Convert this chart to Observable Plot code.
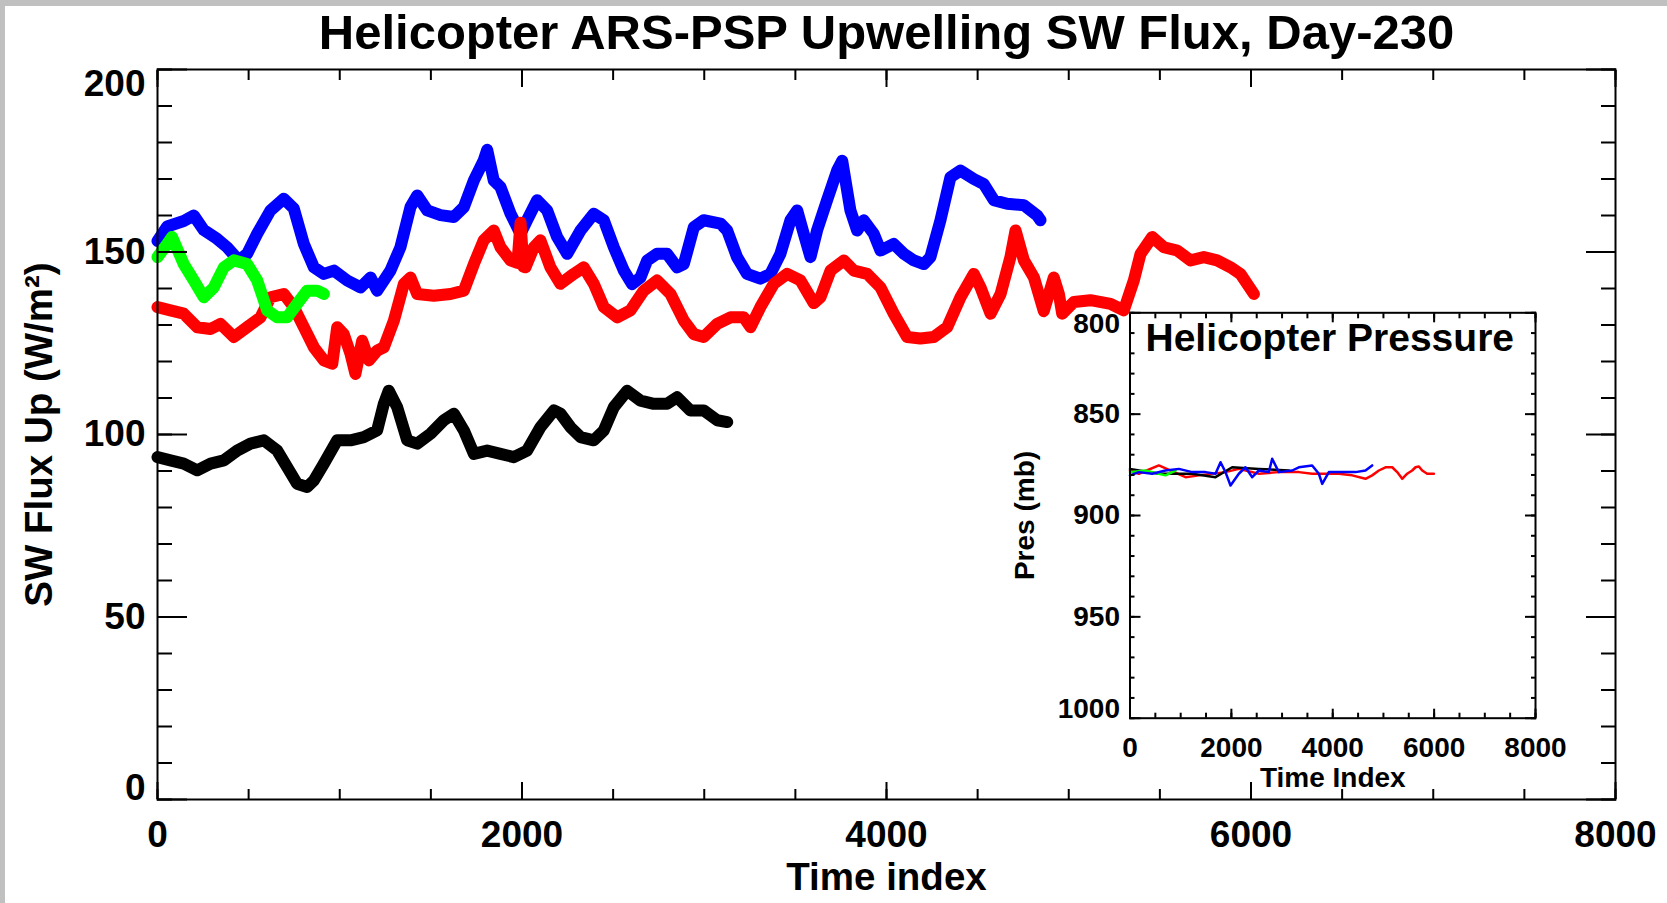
<!DOCTYPE html>
<html><head><meta charset="utf-8">
<script src="https://cdn.jsdelivr.net/npm/d3@7"></script>
<script src="https://cdn.jsdelivr.net/npm/@observablehq/plot@0.6"></script>
<style>
html,body{margin:0;padding:0;background:#c0c0c0;width:1667px;height:903px;overflow:hidden;}
#page{position:absolute;left:5px;top:6px;width:1662px;height:897px;background:#fff;}
#page svg{position:absolute;left:0;top:0;}
</style></head><body><div id="page"></div>
<script>
// ---- Text ----
const titleText = "Helicopter ARS-PSP Upwelling SW Flux, Day-230";
const xLabelText = "Time index";
const yLabelText = "SW Flux Up (W/m\u00B2)";
const insetTitleText = "Helicopter Pressure";
const insetXLabelText = "Time Index";
const insetYLabelText = "Pres (mb)";

// ---- Tick labels ----
const xTickLabels = [0, 2000, 4000, 6000, 8000];
const yTickLabels = [0, 50, 100, 150, 200];
const insetXTickLabels = [0, 2000, 4000, 6000, 8000];
const insetYTickLabels = [800, 850, 900, 950, 1000];

// ---- Series: upwelling SW flux [time index, W/m2] ----
const blueFlux = [[0,153],[53,157],[144,158.5],[199,160],[254,156],[327,153.6],[382,151.3],[446,147.7],[492,149.5],[547,155],[620,161.4],[693,164.6],[748,161.9],[803,152.2],[858,145.8],[913,144],[968,144.9],[1041,142.2],[1114,140.3],[1169,143],[1205,139.4],[1278,144.9],[1333,151.3],[1388,162.3],[1425,165.5],[1480,161.4],[1553,160.1],[1626,159.6],[1681,162.3],[1736,169.6],[1790,175.1],[1809,178],[1845,169.6],[1882,167.8],[1937,160.5],[1992,155],[2028,158.7],[2083,164.2],[2138,161.4],[2193,154.1],[2248,149.5],[2321,155.9],[2394,160.5],[2449,158.7],[2504,151.3],[2559,144.9],[2604,141.2],[2650,143],[2687,147.7],[2741,149.5],[2796,149.5],[2851,145.8],[2888,146.7],[2943,156.8],[2997,158.7],[3089,157.8],[3126,155.9],[3180,148.6],[3235,144],[3308,142.7],[3363,144],[3418,149.5],[3473,158.7],[3510,161.4],[3546,155],[3583,148.6],[3619,155.9],[3674,164.2],[3729,172.3],[3757,175],[3802,161.4],[3839,155.9],[3875,158.7],[3930,155],[3967,150.4],[4040,152.2],[4095,149.5],[4150,147.7],[4205,146.7],[4241,148.6],[4296,158.7],[4351,170.5],[4406,172.3],[4479,170],[4534,168.6],[4589,164.2],[4662,163.2],[4754,162.8],[4827,160],[4845,158.7]];
const redFlux = [[0,134.9],[71,134],[144,133.1],[218,129.4],[291,128.9],[346,130.3],[419,126.7],[492,129.4],[565,132.1],[620,137.6],[693,138.5],[748,134.9],[803,129.4],[858,123.9],[913,120.3],[959,119.4],[986,129.4],[1022,127.5],[1059,122.1],[1086,116.6],[1123,125.7],[1160,120.3],[1205,123],[1242,123.9],[1297,131.2],[1352,141.3],[1388,143],[1425,138.5],[1516,138],[1608,138.5],[1681,139.4],[1736,146.7],[1790,153.2],[1845,155.9],[1882,151.3],[1937,147.7],[1975,147],[1992,158],[2008,146],[2019,145.8],[2065,151.3],[2101,153.2],[2156,145.8],[2211,141.3],[2284,144],[2339,145.8],[2394,141.3],[2449,134.9],[2522,132.1],[2595,134],[2668,139.4],[2741,142.2],[2815,138.5],[2888,131.2],[2943,127.5],[2997,126.7],[3071,130.3],[3144,132.1],[3217,132.1],[3254,129.4],[3308,134.9],[3382,141.3],[3455,144],[3528,142.2],[3601,136],[3638,137.6],[3693,144.9],[3766,147.7],[3821,144.9],[3894,144],[3967,140.3],[4040,133.1],[4113,126.7],[4186,126.3],[4259,126.7],[4333,129.4],[4406,137.6],[4479,144],[4516,140.3],[4571,133.1],[4626,138.5],[4680,148.6],[4708,155.9],[4754,147.7],[4809,143],[4863,133.8],[4918,143],[4946,138.5],[4964,133.1],[5028,136.3],[5119,136.8],[5229,135.8],[5302,134],[5357,142.2],[5394,149.5],[5458,154.1],[5522,151.3],[5595,150.4],[5668,147.7],[5741,148.6],[5814,147.7],[5888,145.8],[5942,144],[6016,138.5]];
const greenFlux = [[0,148.6],[53,152.2],[80,154.1],[144,146.7],[199,142.2],[254,137.6],[309,140.3],[364,145.8],[419,147.7],[492,146.7],[547,142.2],[602,134],[657,132.1],[711,132.1],[766,135.8],[821,139.4],[876,139.4],[913,138.5]];
const blackFlux = [[0,93.8],[71,92.9],[144,92],[218,90.2],[291,92],[364,92.9],[437,95.6],[510,97.5],[583,98.4],[657,95.6],[711,91.1],[766,86.5],[821,85.6],[858,87.4],[913,92],[986,98.4],[1059,98.4],[1132,99.3],[1205,101.1],[1242,108.4],[1269,112],[1315,107.5],[1370,98.4],[1425,97.5],[1498,100.2],[1571,103.9],[1626,105.7],[1681,101.1],[1736,94.7],[1809,95.6],[1882,94.7],[1955,93.8],[2028,95.6],[2101,102],[2175,106.6],[2211,105.7],[2266,102],[2321,99.3],[2394,98.4],[2449,101.1],[2504,107.5],[2577,112],[2650,109.3],[2723,108.4],[2796,108.4],[2851,110.2],[2924,106.6],[2997,106.6],[3071,103.9],[3126,103.4]];

// ---- Series: helicopter pressure [time index, mb] ----
const redPres = [[0,877.8],[174,879.4],[569,875.3],[1095,881.1],[1358,880.2],[1884,878.6],[2147,877],[2542,879.4],[2936,878.6],[3331,878.6],[3594,879.4],[3857,879.4],[4120,879.4],[4383,880.2],[4646,881.9],[4778,880.2],[4910,877.8],[5041,876.2],[5173,876.2],[5271,878.6],[5370,881.9],[5468,879.4],[5567,877.8],[5633,876.2],[5699,875.8],[5765,877.8],[5863,879.4],[5995,879.4]];
const bluePres = [[0,880.2],[174,878.6],[437,879.4],[700,877.8],[964,877],[1227,878.6],[1490,878.6],[1687,879.4],[1786,873.7],[1884,878.6],[1983,885.2],[2147,879.4],[2279,876.2],[2411,881.1],[2542,877.8],[2739,878.6],[2805,872],[2936,878.6],[3200,877.8],[3331,876.2],[3594,875.3],[3726,879.4],[3792,884.4],[3923,878.6],[4186,878.6],[4449,878.6],[4646,877.8],[4778,875.3]];
const blackPres = [[0,877],[569,879.4],[1227,879.4],[1687,881.1],[2016,876.2],[2542,877],[3134,877.8]];
const greenPres = [[0,878.6],[300,877.8],[569,879.4],[700,880.2],[900,877.8]];

const font = "'Liberation Sans', Arial, Helvetica, sans-serif";
const W = 1662, H = 897;
const X = d => d[0], Y = d => d[1];

const yLab = (vals, la, opts) => Plot.text(vals, {y: d => d, text: d => String(d), lineAnchor: la, ...opts});

const mainOpts = {frameAnchor: "left", textAnchor: "end", dx: -12, fontSize: 37, fontWeight: "bold", fill: "black"};
const main = Plot.plot({
  width: W, height: H,
  marginLeft: 152, marginRight: 52, marginTop: 63, marginBottom: 104,
  style: {fontFamily: font, background: "transparent", color: "black"},
  x: {domain: [0, 8000]},
  y: {domain: [0, 200]},
  marks: [
    Plot.line(blackFlux, {x: X, y: Y, stroke: "#000000", strokeWidth: 12, strokeLinejoin: "round"}),
    Plot.line(blueFlux, {x: X, y: Y, stroke: "#0000ff", strokeWidth: 12, strokeLinejoin: "round"}),
    Plot.line(redFlux, {x: X, y: Y, stroke: "#ff0000", strokeWidth: 12, strokeLinejoin: "round"}),
    Plot.line(greenFlux, {x: X, y: Y, stroke: "#00ff00", strokeWidth: 12, strokeLinejoin: "round"}),
    Plot.frame({stroke: "black", strokeWidth: 2}),
    Plot.axisX(d3.range(0, 8001, 500), {anchor: "bottom", tickSize: -10, fill: "none", strokeWidth: 2}),
    Plot.axisX(xTickLabels, {anchor: "bottom", tickSize: -17, fill: "none", strokeWidth: 2}),
    Plot.axisX(d3.range(0, 8001, 500), {anchor: "top", tickSize: -10, fill: "none", strokeWidth: 2}),
    Plot.axisX(xTickLabels, {anchor: "top", tickSize: -17, fill: "none", strokeWidth: 2}),
    Plot.axisY(d3.range(0, 201, 10), {anchor: "left", tickSize: -15, fill: "none", strokeWidth: 2}),
    Plot.axisY(yTickLabels, {anchor: "left", tickSize: -30, fill: "none", strokeWidth: 2}),
    Plot.axisY(d3.range(0, 201, 10), {anchor: "right", tickSize: -15, fill: "none", strokeWidth: 2}),
    Plot.axisY(yTickLabels, {anchor: "right", tickSize: -30, fill: "none", strokeWidth: 2}),
    yLab(yTickLabels.slice(1, -1), "middle", mainOpts),
    yLab(yTickLabels.slice(0, 1), "bottom", mainOpts),
    yLab(yTickLabels.slice(-1), "top", mainOpts),
    Plot.text(xTickLabels, {x: d => d, text: d => String(d), frameAnchor: "bottom", lineAnchor: "top", dy: 21, fontSize: 37, fontWeight: "bold", fill: "black"}),
    Plot.text([titleText], {text: d => d, frameAnchor: "top", textAnchor: "middle", lineAnchor: "bottom", dy: -21, fontSize: 49, fontWeight: "bold", fill: "black"}),
    Plot.text([xLabelText], {text: d => d, frameAnchor: "bottom", textAnchor: "middle", lineAnchor: "bottom", dy: 90, fontSize: 38.5, fontWeight: "bold", fill: "black"}),
    Plot.text([yLabelText], {text: d => d, frameAnchor: "left", textAnchor: "middle", rotate: -90, lineAnchor: "bottom", dx: -106, fontSize: 38.5, fontWeight: "bold", fill: "black"})
  ]
});

const inOpts = {frameAnchor: "left", textAnchor: "end", dx: -10, fontSize: 28, fontWeight: "bold", fill: "black"};
const inset = Plot.plot({
  width: W, height: H,
  marginLeft: 1124.5, marginRight: 132, marginTop: 306.3, marginBottom: 185.3,
  style: {fontFamily: font, background: "transparent", color: "black", overflow: "visible"},
  x: {domain: [0, 8000]},
  y: {domain: [800, 1000], reverse: true},
  marks: [
    Plot.line(redPres, {x: X, y: Y, stroke: "#ff0000", strokeWidth: 2.5}),
    Plot.line(blackPres, {x: X, y: Y, stroke: "#000000", strokeWidth: 2.5}),
    Plot.line(greenPres, {x: X, y: Y, stroke: "#00ff00", strokeWidth: 2.5}),
    Plot.line(bluePres, {x: X, y: Y, stroke: "#0000ff", strokeWidth: 2.5}),
    Plot.frame({stroke: "black", strokeWidth: 2}),
    Plot.axisX(d3.range(0, 8001, 500), {anchor: "bottom", tickSize: -5, fill: "none", strokeWidth: 2}),
    Plot.axisX(insetXTickLabels, {anchor: "bottom", tickSize: -9, fill: "none", strokeWidth: 2}),
    Plot.axisX(d3.range(0, 8001, 500), {anchor: "top", tickSize: -5, fill: "none", strokeWidth: 2}),
    Plot.axisX(insetXTickLabels, {anchor: "top", tickSize: -9, fill: "none", strokeWidth: 2}),
    Plot.axisY(d3.range(800, 1001, 10), {anchor: "left", tickSize: -5, fill: "none", strokeWidth: 2}),
    Plot.axisY(insetYTickLabels, {anchor: "left", tickSize: -11, fill: "none", strokeWidth: 2}),
    Plot.axisY(d3.range(800, 1001, 10), {anchor: "right", tickSize: -5, fill: "none", strokeWidth: 2}),
    Plot.axisY(insetYTickLabels, {anchor: "right", tickSize: -11, fill: "none", strokeWidth: 2}),
    yLab(insetYTickLabels.slice(1, -1), "middle", inOpts),
    yLab(insetYTickLabels.slice(0, 1), "top", inOpts),
    yLab(insetYTickLabels.slice(-1), "bottom", inOpts),
    Plot.text(insetXTickLabels, {x: d => d, text: d => String(d), frameAnchor: "bottom", lineAnchor: "top", dy: 19, fontSize: 28, fontWeight: "bold", fill: "black"}),
    Plot.text([insetTitleText], {text: d => d, frameAnchor: "top-left", textAnchor: "start", lineAnchor: "bottom", dx: 15.5, dy: 38, fontSize: 39, fontWeight: "bold", fill: "black"}),
    Plot.text([insetXLabelText], {text: d => d, frameAnchor: "bottom", textAnchor: "middle", lineAnchor: "bottom", dy: 69, fontSize: 28, fontWeight: "bold", fill: "black"}),
    Plot.text([insetYLabelText], {text: d => d, frameAnchor: "left", textAnchor: "middle", rotate: -90, lineAnchor: "bottom", dx: -96.5, fontSize: 28, fontWeight: "bold", fill: "black"})
  ]
});

const page = document.getElementById("page");
page.appendChild(main);
page.appendChild(inset);
</script></body></html>
